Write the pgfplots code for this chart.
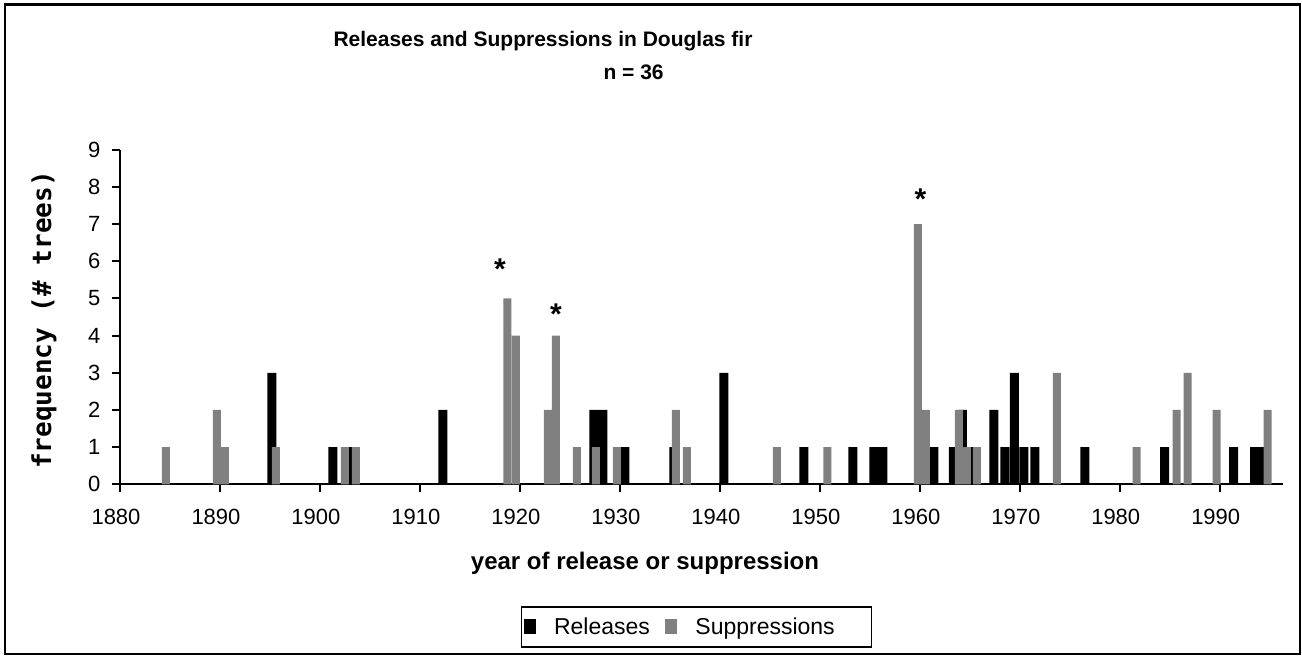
\documentclass[border=0pt]{standalone}
\usepackage{fontspec}
\setmainfont{Liberation Sans}
\newfontfamily\labelfont{DejaVu Sans Mono}
\usepackage{pgfplots}
\pgfplotsset{compat=1.18}
\definecolor{supgray}{RGB}{128,128,128}

\begin{document}
\begin{tikzpicture}
\useasboundingbox (0pt,0pt) rectangle (1302pt,656pt);
\draw[line width=2.5pt] (5pt,2pt) rectangle (1300pt,651.3pt);
\begin{axis}[
  at={(120pt,171.7pt)}, anchor=south west,
  scale only axis, width=1162.7pt, height=334.5pt,
  xmin=1880, xmax=1996.3, ymin=0, ymax=9,
  axis lines*=left, axis line style={line width=2pt},
  xtick={1880,1890,...,1990}, ytick={0,...,9},
  tick align=outside, major tick length=8pt,
  tick style={line width=2pt, black},
  ticklabel style={font=\fontsize{22}{26}\selectfont},
  xticklabel style={/pgf/number format/1000 sep={}, xshift=-4pt, yshift=-13pt},
  yticklabel style={xshift=-8pt},
  /pgf/number format/assume math mode=true,
  ybar, bar width=0.9,
  legend style={at={(0.3446,-0.3638)}, anchor=north west, draw=black, line width=1.7pt,
    font=\fontsize{23}{27}\selectfont, legend columns=-1, inner xsep=2pt, inner ysep=9pt,
    /tikz/every odd column/.style={column sep=16pt},
    /tikz/every even column/.style={column sep=13pt}},
  legend image code/.code={\fill[#1] (0pt,-7.5pt) rectangle (12.5pt,7.5pt);},
]
% Releases
\addplot[fill=black, draw=none, bar shift=0pt] coordinates {
 (1895.2,3) (1901.3,1) (1903.0,1) (1912.3,2) (1927.4,2) (1928.3,2) (1930.5,1)
 (1935.4,1) (1940.4,3) (1948.4,1) (1953.3,1) (1955.4,1) (1956.3,1) (1961.4,1)
 (1963.35,1) (1964.25,2) (1965.2,1) (1967.4,2) (1968.5,1) (1969.45,3) (1970.4,1)
 (1971.5,1) (1976.5,1) (1984.5,1) (1991.4,1) (1993.5,1) (1994.1,1)};
% Suppressions
\addplot[fill=supgray, draw=none, bar shift=0pt, bar width=0.8] coordinates {
 (1884.6,1) (1889.7,2) (1890.5,1) (1895.6,1) (1902.5,1) (1903.6,1) (1918.75,5)
 (1919.6,4) (1922.8,2) (1923.6,4) (1925.7,1) (1927.6,1) (1929.7,1) (1935.6,2)
 (1936.7,1) (1945.7,1) (1950.75,1) (1959.8,7) (1960.6,2) (1963.9,2) (1964.7,1)
 (1965.7,1) (1973.7,3) (1981.7,1) (1985.7,2) (1986.8,3) (1989.7,2) (1994.8,2)};
\legend{Releases, \makebox[172pt][l]{Suppressions}}
\node[anchor=base, inner sep=0pt, font=\bfseries\fontsize{30}{30}\selectfont] at (axis cs:1918.0,5.52) {*};
\node[anchor=base, inner sep=0pt, font=\bfseries\fontsize{30}{30}\selectfont] at (axis cs:1923.6,4.31) {*};
\node[anchor=base, inner sep=0pt, font=\bfseries\fontsize{30}{30}\selectfont] at (axis cs:1960.07,7.385) {*};
\end{axis}
\node[anchor=base west, font=\bfseries\fontsize{21}{25}\selectfont] at (330pt,609.3pt) {Releases and Suppressions in Douglas fir};
\node[anchor=base west, font=\bfseries\fontsize{21}{25}\selectfont] at (600pt,576pt) {n = 36};
\node[font=\bfseries\fontsize{24}{28}\selectfont] at (645pt,93pt) {year of release or suppression};
\node[rotate=90, font=\labelfont\bfseries\fontsize{26}{30}\selectfont] at (44pt,336pt) {frequency (\# trees)};
\end{tikzpicture}
\end{document}
